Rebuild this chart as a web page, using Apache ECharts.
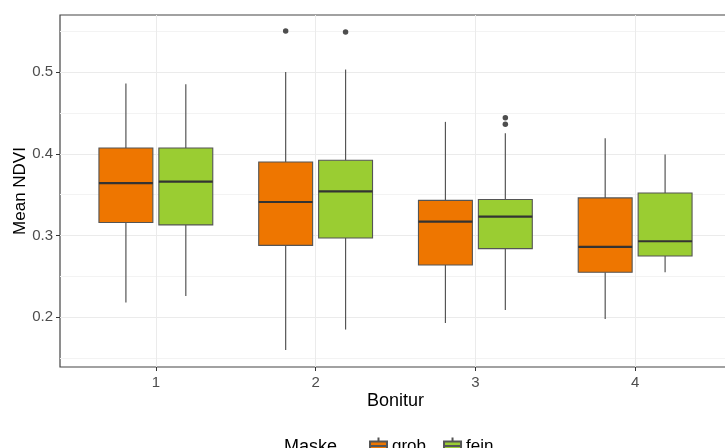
<!DOCTYPE html>
<html>
<head>
<meta charset="utf-8">
<script src="https://cdn.jsdelivr.net/npm/echarts@6/dist/echarts.min.js"></script>
<style>html,body{margin:0;padding:0;background:#fff}#c{width:725px;height:448px}</style>
</head>
<body>
<div id="c"></div>
<script>
// Categories (Bonitur) and tick values
const categories = [1, 2, 3, 4];
const yMajorTicks = [0.2, 0.3, 0.4, 0.5];
const yMinorTicks = [0.15, 0.25, 0.35, 0.45, 0.55];
// Box stats per category: [min, q1, median, q3, max]
const grobStats = [
  [0.218, 0.316, 0.364, 0.407, 0.486],
  [0.160, 0.288, 0.341, 0.390, 0.500],
  [0.193, 0.264, 0.317, 0.343, 0.439],
  [0.198, 0.255, 0.286, 0.346, 0.419]
];
const feinStats = [
  [0.226, 0.313, 0.366, 0.407, 0.485],
  [0.185, 0.297, 0.354, 0.392, 0.503],
  [0.209, 0.284, 0.323, 0.344, 0.425],
  [0.255, 0.275, 0.293, 0.352, 0.399]
];
// Outliers: [category, value]
const grobOutliers = [[2, 0.550]];
const feinOutliers = [[2, 0.549], [3, 0.444], [3, 0.436]];

const DODGE = 0.1875;   // half of dodge width (0.75/4)
const BOXW = 0.3375;    // box width in category units
const FONT = "'Liberation Sans', Arial, sans-serif";

function boxData(stats) {
  return stats.map((s, i) => [categories[i]].concat(s));
}
function makeRender(offset) {
  return function (params, api) {
    const x = api.value(0) + offset;
    const pMin = api.coord([x, api.value(1)]);
    const pQ1 = api.coord([x, api.value(2)]);
    const pMed = api.coord([x, api.value(3)]);
    const pQ3 = api.coord([x, api.value(4)]);
    const pMax = api.coord([x, api.value(5)]);
    const hw = api.size([BOXW, 0])[0] / 2;
    const style = api.style();
    const lineStyle = { stroke: '#555', lineWidth: 1.2 };
    return {
      type: 'group',
      children: [
        { type: 'line', shape: { x1: pMax[0], y1: pMax[1], x2: pQ3[0], y2: pQ3[1] }, style: lineStyle },
        { type: 'line', shape: { x1: pQ1[0], y1: pQ1[1], x2: pMin[0], y2: pMin[1] }, style: lineStyle },
        { type: 'rect', shape: { x: pQ3[0] - hw, y: pQ3[1], width: hw * 2, height: pQ1[1] - pQ3[1] },
          style: { fill: style.fill, stroke: '#555', lineWidth: 1.1 } },
        { type: 'line', shape: { x1: pMed[0] - hw, y1: pMed[1], x2: pMed[0] + hw, y2: pMed[1] },
          style: { stroke: '#333', lineWidth: 2.2 } }
      ]
    };
  };
}
function outlierData(list, offset) {
  return list.map(d => [d[0] + offset, d[1]]);
}

const legendIcon = 'path://M8.5,0V4M0,4H17V13H0ZM0,8.5H17M8.5,13V17';

const chart = echarts.init(document.getElementById('c'));
chart.setOption({
  animation: false,
  title: {
    text: 'Maske', left: 284, top: 438, padding: 0,
    textStyle: { fontFamily: FONT, fontSize: 18, fontWeight: 'normal', color: '#000' }
  },
  legend: {
    data: ['grob', 'fein'],
    left: 369, top: 436.5, padding: 0,
    itemWidth: 17, itemHeight: 17, itemGap: 17,
    icon: legendIcon,
    textStyle: { fontFamily: FONT, fontSize: 17, color: '#000' }
  },
  grid: {
    left: 60, top: 15, width: 671, height: 352,
    outerBoundsMode: 'none', containLabel: false,
    show: true, borderColor: '#444', borderWidth: 1.2, backgroundColor: 'transparent'
  },
  xAxis: {
    type: 'value', min: 0.4, max: 4.6,
    name: 'Bonitur', nameLocation: 'middle', nameGap: 25, nameMoveOverlap: false,
    nameTextStyle: { fontFamily: FONT, fontSize: 18, color: '#000' },
    axisLine: { show: false },
    axisTick: { show: true, length: 4, customValues: categories, lineStyle: { color: '#333' } },
    axisLabel: { customValues: categories, margin: 8, fontFamily: FONT, fontSize: 15, color: '#4D4D4D',
      formatter: v => String(v) },
    splitLine: { show: true, lineStyle: { color: '#EBEBEB', width: 1 } }
  },
  yAxis: [{
    type: 'value', min: 0.1392, max: 0.5697,
    name: 'Mean NDVI', nameLocation: 'middle', nameGap: 31, nameMoveOverlap: false,
    nameTextStyle: { fontFamily: FONT, fontSize: 17, color: '#000' },
    axisLine: { show: false },
    axisTick: { show: true, length: 4, customValues: yMajorTicks, lineStyle: { color: '#333' } },
    axisLabel: { customValues: yMajorTicks, margin: 7, fontFamily: FONT, fontSize: 15, color: '#4D4D4D',
      formatter: v => v.toFixed(1) },
    splitLine: { show: true, lineStyle: { color: '#EBEBEB', width: 1 } }
  }, {
    type: 'value', min: 0.1392, max: 0.5697, position: 'left',
    axisLine: { show: false },
    axisTick: { show: false, customValues: yMinorTicks },
    axisLabel: { show: false, customValues: yMinorTicks },
    splitLine: { show: true, lineStyle: { color: '#F3F3F3', width: 1 } }
  }],
  series: [
    { name: 'grob', type: 'custom', renderItem: makeRender(-DODGE), data: boxData(grobStats),
      itemStyle: { color: '#EE7600', borderColor: '#555', borderWidth: 1 }, z: 3 },
    { name: 'fein', type: 'custom', renderItem: makeRender(DODGE), data: boxData(feinStats),
      itemStyle: { color: '#9ACD32', borderColor: '#555', borderWidth: 1 }, z: 3 },
    { name: 'grob_out', type: 'scatter', data: outlierData(grobOutliers, -DODGE),
      symbolSize: 5.5, itemStyle: { color: '#222' }, z: 4 },
    { name: 'fein_out', type: 'scatter', data: outlierData(feinOutliers, DODGE),
      symbolSize: 5.5, itemStyle: { color: '#222' }, z: 4 }
  ]
});
</script>
</body>
</html>
